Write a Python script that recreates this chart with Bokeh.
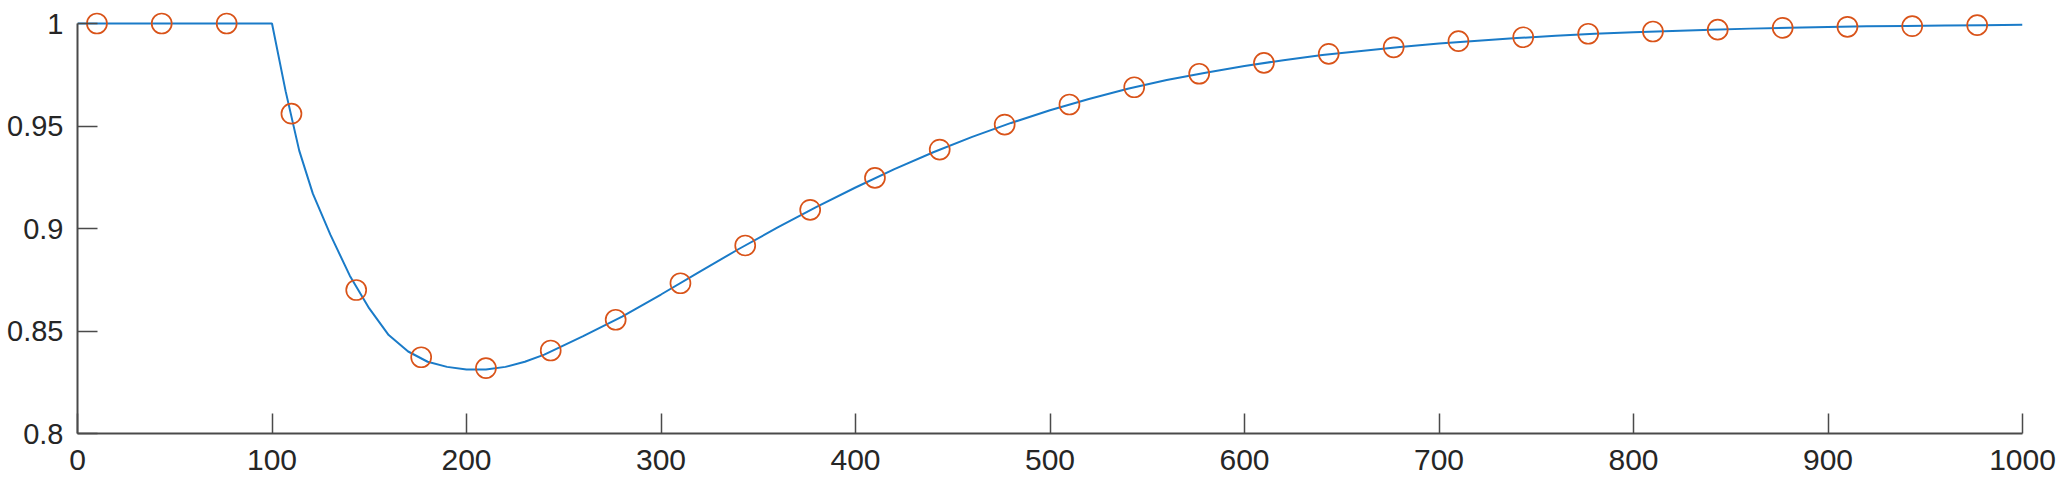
from bokeh.plotting import figure
from bokeh.models import Range1d, FixedTicker, NumeralTickFormatter
from bokeh.embed import file_html
from bokeh.resources import INLINE

# Continuous curve (blue line)
line_x = [0, 100, 107, 114, 121, 130, 140, 150, 160, 170, 180, 190, 200, 210, 220, 230, 240,
          260, 280, 300, 320, 340, 360, 380, 400, 420, 440, 460, 480, 500, 520, 540, 560, 580,
          600, 620, 640, 660, 680, 700, 720, 740, 760, 780, 800, 820, 840, 860, 880, 900, 920,
          940, 960, 980, 1000]
line_y = [1.0, 1.0, 0.967, 0.938, 0.917, 0.897, 0.877, 0.861, 0.848, 0.840, 0.835, 0.8325,
          0.8312, 0.8312, 0.8325, 0.8350, 0.8385,
          0.8475, 0.8570, 0.8678, 0.8790, 0.8900, 0.9005, 0.9105, 0.9200, 0.9290, 0.9372,
          0.9447, 0.9515, 0.9577, 0.9632, 0.9682, 0.9724, 0.9760,
          0.9793, 0.9821, 0.9846, 0.9866, 0.9885, 0.9902, 0.9916, 0.9929, 0.9940, 0.9950,
          0.9957, 0.9964, 0.9970, 0.9975, 0.9979, 0.9983, 0.9986,
          0.9988, 0.9990, 0.9992, 0.9994]

# Sampled points (orange circles)
pts_x = [10, 43.3, 76.7, 110, 143.3, 176.7, 210, 243.3, 276.7, 310, 343.3, 376.7, 410, 443.3,
         476.7, 510, 543.3, 576.7, 610, 643.3, 676.7, 710, 743.3, 776.7, 810, 843.3, 876.7,
         910, 943.3, 976.7]
pts_y = [1.0, 1.0, 1.0, 0.956, 0.870, 0.8372, 0.8319, 0.8405, 0.8555, 0.8733, 0.8917, 0.9091,
         0.9247, 0.9385, 0.9507, 0.9605, 0.9689, 0.9755, 0.9808, 0.9852, 0.9884, 0.9914,
         0.9933, 0.9950, 0.9961, 0.9970, 0.9979, 0.9984, 0.9987, 0.9992]

x_ticks = [0, 100, 200, 300, 400, 500, 600, 700, 800, 900, 1000]
y_ticks = [0.8, 0.85, 0.9, 0.95, 1.0]

p = figure(width=2059, height=484, output_backend="svg", toolbar_location=None,
           x_range=Range1d(0, 1000), y_range=Range1d(0.8, 0.8 + 425 * 0.2 / 410),
           min_border_left=77, min_border_right=37, min_border_top=8, min_border_bottom=51)
p.outline_line_color = None
p.xgrid.visible = False
p.ygrid.visible = False
p.background_fill_color = "white"
p.border_fill_color = "white"

p.line(line_x, line_y, line_color="#1a7bc8", line_width=2)
p.scatter(pts_x, pts_y, marker="circle", size=20, fill_color=None,
          line_color="#D95319", line_width=1.7)

for ax in (p.xaxis[0], p.yaxis[0]):
    ax.axis_line_color = "#4a4a4a"
    ax.axis_line_width = 2
    ax.major_tick_line_color = "#4a4a4a"
    ax.major_tick_line_width = 1.5
    ax.major_tick_in = 20
    ax.major_tick_out = 0
    ax.minor_tick_line_color = None
    ax.major_label_text_font = "Liberation Sans"
    ax.major_label_text_color = "#262626"

p.xaxis.ticker = FixedTicker(ticks=x_ticks)
p.yaxis.ticker = FixedTicker(ticks=y_ticks)
p.yaxis.formatter = NumeralTickFormatter(format="0.[00]")
p.yaxis.bounds = (0.8, 1.0)
p.xaxis.major_label_text_font_size = "30px"
p.yaxis.major_label_text_font_size = "29px"
p.xaxis.major_label_standoff = 16
p.yaxis.major_label_standoff = 14

open("out.html", "w").write(file_html(p, INLINE))
